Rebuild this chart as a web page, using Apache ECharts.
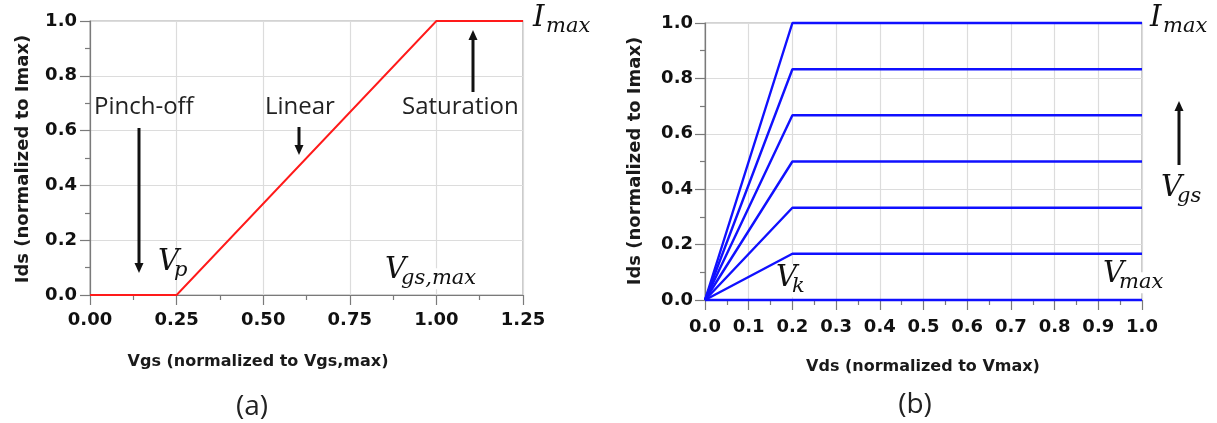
<!DOCTYPE html>
<html>
<head>
<meta charset="utf-8">
<script src="https://cdn.jsdelivr.net/npm/echarts@6/dist/echarts.min.js"></script>
<style>
  html, body { margin: 0; padding: 0; background: #fff; }
  #chart { width: 1217px; height: 423px; }
</style>
</head>
<body>
<div id="chart"></div>
<script>
// (a) transfer characteristic: Ids vs Vgs
const vgsPoints = [0, 0.25, 1.0, 1.25];
const idsTransfer = [0, 0, 1.0, 1.0];

// (b) output characteristics: Ids vs Vds, one curve per Vgs step
const vdsPoints = [0, 0.2, 1.0];
const idsLevels = [0, 0.167, 0.333, 0.5, 0.667, 0.833, 1.0];

const TICK_FONT = 'DejaVu Sans';
const NAME_FONT = 'DejaVu Sans';
const NOTE_FONT = 'Open Sans';
const MATH_FONT = 'DejaVu Serif';

const chart = echarts.init(document.getElementById('chart'), null, { renderer: 'canvas' });

const tickLabel = { color: '#111', fontFamily: TICK_FONT, fontWeight: 'bold', fontSize: 18 };

function axisCommon(extra) {
  return Object.assign({
    type: 'value',
    axisLine: { show: true, onZero: false, lineStyle: { color: '#7a7a7a', width: 1.2 } },
    axisTick: { show: true, inside: false, length: 10, lineStyle: { color: '#7a7a7a', width: 1.2 } },
    minorTick: { show: true, splitNumber: 2, length: 5, lineStyle: { color: '#7a7a7a', width: 1.2 } },
    splitLine: { show: true, lineStyle: { color: '#dcdcdc', width: 1.2 } }
  }, extra);
}

const transferSeries = {
  type: 'line',
  xAxisIndex: 0, yAxisIndex: 0,
  data: vgsPoints.map((v, i) => [v, idsTransfer[i]]),
  symbol: 'none',
  lineStyle: { color: '#ff1a1a', width: 1.9 },
  clip: false,
  z: 5
};

const outputSeries = idsLevels.map(level => ({
  type: 'line',
  xAxisIndex: 1, yAxisIndex: 1,
  data: vdsPoints.map((v, i) => [v, i === 0 ? 0 : level]),
  symbol: 'none',
  lineStyle: { color: '#1010ff', width: 2.4 },
  clip: false,
  z: 5
}));

function text(x, y, str, style) {
  return {
    type: 'text', x: x, y: y, z: 20,
    style: Object.assign({ text: str, fill: '#111' }, style)
  };
}

function arrow(x, yFrom, yTip) {
  const dir = yTip > yFrom ? 1 : -1;
  const head = 10, half = 4.5;
  return [
    { type: 'line', z: 20, shape: { x1: x, y1: yFrom, x2: x, y2: yTip - dir * head },
      style: { stroke: '#111', lineWidth: 3 } },
    { type: 'polygon', z: 20,
      shape: { points: [[x - half, yTip - dir * head], [x + half, yTip - dir * head], [x, yTip]] },
      style: { fill: '#111' } }
  ];
}

// italic symbol with a subscript; (x, yTop) is the top of the main glyph box
function mathLabel(x, yTop, main, sub, opts) {
  opts = opts || {};
  const mainSize = opts.mainSize || 29;
  const subSize = opts.subSize || 21;
  const bg = opts.bg ? '#fff' : null;
  const mainStyle = { fontFamily: MATH_FONT, fontStyle: 'italic', fontSize: mainSize,
    textVerticalAlign: 'top', textAlign: 'left' };
  const subStyle = { fontFamily: MATH_FONT, fontStyle: 'italic', fontSize: subSize,
    textVerticalAlign: 'top', textAlign: 'left' };
  if (bg) {
    mainStyle.backgroundColor = bg; subStyle.backgroundColor = bg;
  }
  return [
    text(x, yTop, main, mainStyle),
    text(x + (opts.mainW || 18), yTop + mainSize * 0.42, sub, subStyle)
  ];
}

const graphics = [
  // axis names
  text(258, 362, 'Vgs (normalized to Vgs,max)', { fontFamily: NAME_FONT, fontWeight: 'bold', fontSize: 16,
    textAlign: 'center', textVerticalAlign: 'middle', fill: '#1a1a1a' }),
  { type: 'text', x: 23, y: 159, rotation: Math.PI / 2, z: 20,
    style: { text: 'Ids (normalized to Imax)', fontFamily: NAME_FONT, fontWeight: 'bold', fontSize: 18,
      textAlign: 'center', textVerticalAlign: 'middle', fill: '#1a1a1a' } },
  text(923, 367, 'Vds (normalized to Vmax)', { fontFamily: NAME_FONT, fontWeight: 'bold', fontSize: 16,
    textAlign: 'center', textVerticalAlign: 'middle', fill: '#1a1a1a' }),
  { type: 'text', x: 635, y: 161, rotation: Math.PI / 2, z: 20,
    style: { text: 'Ids (normalized to Imax)', fontFamily: NAME_FONT, fontWeight: 'bold', fontSize: 18,
      textAlign: 'center', textVerticalAlign: 'middle', fill: '#1a1a1a' } },

  // panel labels
  text(252, 407, '(a)', { fontFamily: NOTE_FONT, fontSize: 28, textAlign: 'center', textVerticalAlign: 'middle', fill: '#222' }),
  text(915, 405, '(b)', { fontFamily: NOTE_FONT, fontSize: 28, textAlign: 'center', textVerticalAlign: 'middle', fill: '#222' }),

  // region notes on (a)
  text(94, 107, 'Pinch-off', { fontFamily: NOTE_FONT, fontSize: 24, textAlign: 'left', textVerticalAlign: 'middle', fill: '#222' }),
  text(265, 107, 'Linear', { fontFamily: NOTE_FONT, fontSize: 24, textAlign: 'left', textVerticalAlign: 'middle', fill: '#222' }),
  text(402, 107, 'Saturation', { fontFamily: NOTE_FONT, fontSize: 24, textAlign: 'left', textVerticalAlign: 'middle', fill: '#222' }),
  ...arrow(139, 128, 273),
  ...arrow(299, 127, 155),
  ...arrow(473, 92, 30),
  ...arrow(1179, 165, 101),

  // symbols
  ...mathLabel(533, 4, 'I', 'max', { mainW: 13 }),
  ...mathLabel(158, 248, 'V', 'p', { mainW: 16 }),
  ...mathLabel(385, 256, 'V', 'gs,max', { mainW: 16, bg: true }),
  ...mathLabel(1150, 4, 'I', 'max', { mainW: 13 }),
  ...mathLabel(1161, 174, 'V', 'gs', { mainW: 16 }),
  ...mathLabel(776, 264, 'V', 'k', { mainW: 16, bg: true }),
  ...mathLabel(1103, 260, 'V', 'max', { mainW: 16, bg: true })
];

chart.setOption({
  animation: false,
  backgroundColor: '#fff',
  grid: [
    { left: 90, top: 21, width: 433, height: 274, show: true, borderColor: '#a8a8a8', borderWidth: 1.2, containLabel: false },
    { left: 705, top: 23, width: 437, height: 277, show: true, borderColor: '#a8a8a8', borderWidth: 1.2, containLabel: false }
  ],
  xAxis: [
    axisCommon({ gridIndex: 0, min: 0, max: 1.25, interval: 0.25,
      axisLabel: Object.assign({}, tickLabel, { margin: 16, formatter: v => v.toFixed(2) }) }),
    axisCommon({ gridIndex: 1, min: 0, max: 1.0, interval: 0.1,
      axisLabel: Object.assign({}, tickLabel, { margin: 18, formatter: v => v.toFixed(1) }) })
  ],
  yAxis: [
    axisCommon({ gridIndex: 0, min: 0, max: 1.0, interval: 0.2,
      axisLabel: Object.assign({}, tickLabel, { margin: 13, formatter: v => v.toFixed(1) }) }),
    axisCommon({ gridIndex: 1, min: 0, max: 1.0, interval: 0.2,
      axisLabel: Object.assign({}, tickLabel, { margin: 12, formatter: v => v.toFixed(1) }) })
  ],
  series: [transferSeries, ...outputSeries],
  graphic: graphics
});
</script>
</body>
</html>
